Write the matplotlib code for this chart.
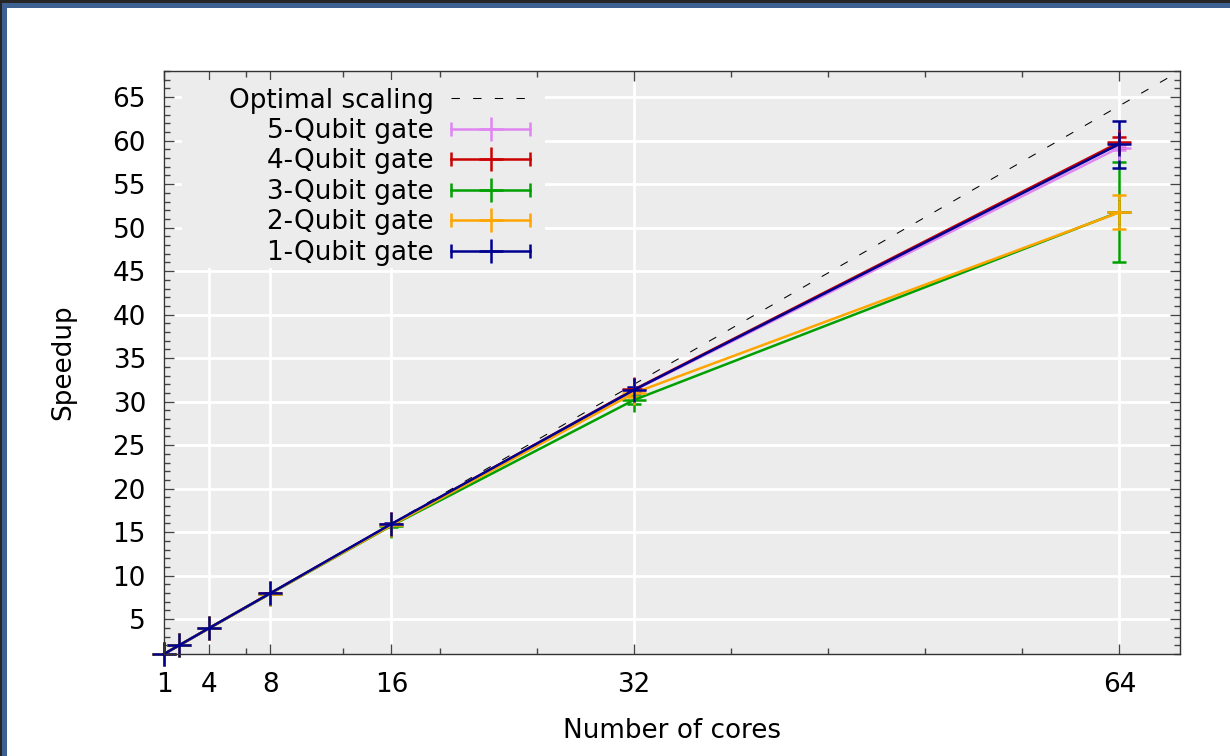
import numpy as np
import matplotlib
matplotlib.use("Agg")
import matplotlib.pyplot as plt
from matplotlib.lines import Line2D
from matplotlib.patches import Rectangle
from matplotlib.legend_handler import HandlerLine2D, HandlerTuple
from matplotlib.ticker import FixedLocator, MultipleLocator

# ---- data ----
cores = [1, 2, 4, 8, 16, 32, 64]
optimal_x = [1, 68]
optimal_y = [1, 68]

q5 = [1, 2, 3.98, 7.95, 15.85, 31.30, 59.2]
q4 = [1, 2, 4.00, 7.97, 15.90, 31.40, 59.8]
q3 = [1, 2, 3.98, 7.93, 15.75, 30.20, 51.8]
q2 = [1, 2, 3.98, 7.94, 15.80, 31.00, 51.75]
q1 = [1, 2, 4.00, 7.97, 15.95, 31.35, 59.6]

q5_err = [0, 0, 0.02, 0.03, 0.05, 0.10, 0.3]
q4_err = [0, 0, 0.02, 0.03, 0.05, 0.15, 0.6]
q3_err = [0, 0, 0.03, 0.05, 0.10, 0.42, 5.7]
q2_err = [0, 0, 0.02, 0.04, 0.10, 0.50, 1.95]
q1_err = [0, 0, 0.02, 0.04, 0.10, 0.30, 2.7]

labels = ["5-Qubit gate", "4-Qubit gate", "3-Qubit gate", "2-Qubit gate", "1-Qubit gate"]
series = [q5, q4, q3, q2, q1]
errors = [q5_err, q4_err, q3_err, q2_err, q1_err]
colors = ["#e086f2", "#cc0000", "#00a000", "#ffa500", "#000090"]

xticks = [1, 4, 8, 16, 32, 64]
yticks = list(range(5, 70, 5))

FS = 18.9
LW = 1.8
plt.rcParams["font.family"] = ["DejaVu Sans"]
plt.rcParams["font.size"] = FS

fig = plt.figure(figsize=(12.3, 7.56), dpi=100)
W, H = 1230, 756

# window frame
fig.patches.append(Rectangle((0, 1 - 3 / H), 1, 3 / H, transform=fig.transFigure,
                             facecolor="#262626", edgecolor="none", zorder=-5))
fig.patches.append(Rectangle((0, 1 - 7.5 / H), 1, 4.5 / H, transform=fig.transFigure,
                             facecolor="#3d6190", edgecolor="none", zorder=-5))
fig.patches.append(Rectangle((0, 0), 2.3 / W, 1, transform=fig.transFigure,
                             facecolor="#262626", edgecolor="none", zorder=-5))
fig.patches.append(Rectangle((2.3 / W, 0), 5 / W, 1 - 3 / H, transform=fig.transFigure,
                             facecolor="#3d6190", edgecolor="none", zorder=-5))

left, right, top, bottom = 164, 1180, 71, 654
ax = fig.add_axes([left / W, 1 - bottom / H, (right - left) / W, (bottom - top) / H])
ax.set_facecolor("#ececec")
ax.set_axisbelow(True)

ax.set_xlim(1, 68)
ax.set_ylim(1, 68)

ax.xaxis.set_major_locator(FixedLocator(xticks))
ax.xaxis.set_minor_locator(FixedLocator(list(np.arange(6.4, 64, 6.4))))
ax.set_xticklabels([str(t) for t in xticks])
ax.yaxis.set_major_locator(FixedLocator(yticks))
ax.yaxis.set_minor_locator(MultipleLocator(1))

ax.grid(True, which="major", color="white", linewidth=2.0)
ax.tick_params(which="both", direction="in", top=True, right=True,
               color="#444444", labelsize=FS)
ax.tick_params(which="major", length=7, width=1.0, pad=13)
ax.tick_params(which="minor", length=4, width=1.0)
for s in ax.spines.values():
    s.set_color("#333333")
    s.set_linewidth(1.0)

# legend background (gnuplot opaque key)
ax.add_patch(Rectangle((0.0177, 0.662), 0.375 - 0.0177, 0.985 - 0.662,
                       transform=ax.transAxes, facecolor="#ececec",
                       edgecolor="none", zorder=1))

opt_line, = ax.plot(optimal_x, optimal_y, color="black", linewidth=0.75,
                    dashes=(8, 12.8), zorder=1.5)

handles = [opt_line]
hmap = {}
for ys, es, c, lab in zip(series, errors, colors, labels):
    cont = ax.errorbar(cores, ys, yerr=es, color=c, linewidth=LW, marker="+",
                       markersize=17, markeredgewidth=LW, capsize=4.7,
                       capthick=LW, elinewidth=LW, zorder=2)
    for art in cont.get_children():
        art.set_clip_on(False)
    cap_line = Line2D([], [], color=c, linewidth=LW, marker="|",
                      markersize=9.4, markeredgewidth=LW)
    plus = Line2D([], [], color=c, linestyle="none", marker="+",
                  markersize=17, markeredgewidth=LW)
    hmap[cap_line] = HandlerLine2D(numpoints=2, marker_pad=0)
    hmap[plus] = HandlerLine2D(numpoints=1)
    handles.append((cap_line, plus))

hmap[tuple] = HandlerTuple(ndivide=1, pad=0)
legend_labels = ["Optimal scaling"] + labels
leg = ax.legend(handles, legend_labels, handler_map=hmap,
                loc="upper left", bbox_to_anchor=(229 / W, 1 - 87.5 / H),
                bbox_transform=fig.transFigure, frameon=False,
                markerfirst=False, borderpad=0, borderaxespad=0,
                labelspacing=0.17, handlelength=3.03, handletextpad=0.65,
                fontsize=FS)
leg.set_zorder(3)

ax.set_xlabel("Number of cores", fontsize=FS, labelpad=14)
ax.set_ylabel("Speedup", fontsize=FS, labelpad=26)

fig.savefig("out.png", dpi=100, facecolor="white")
